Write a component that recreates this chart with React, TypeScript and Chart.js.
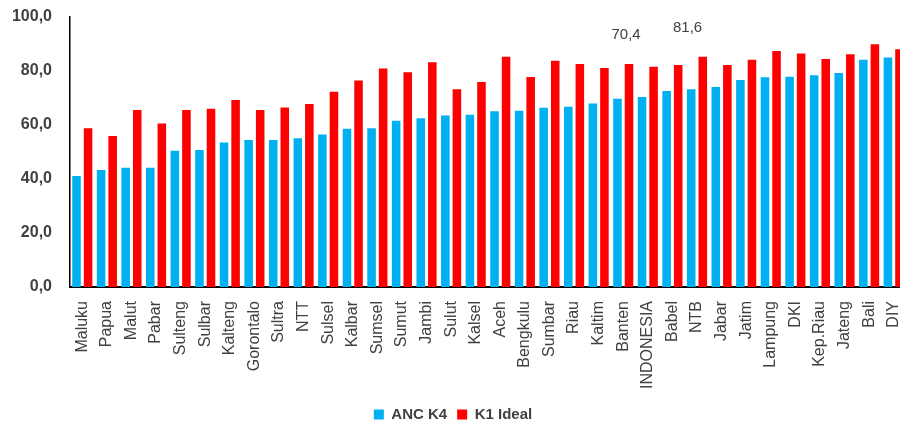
import React, { useEffect, useRef } from "react";
import { Chart, registerables } from "chart.js";

Chart.register(...registerables);

const categories = [
  "Maluku", "Papua", "Malut", "Pabar", "Sulteng", "Sulbar", "Kalteng", "Gorontalo", "Sultra", "NTT",
  "Sulsel", "Kalbar", "Sumsel", "Sumut", "Jambi", "Sulut", "Kalsel", "Aceh", "Bengkulu", "Sumbar",
  "Riau", "Kaltim", "Banten", "INDONESIA", "Babel", "NTB", "Jabar", "Jatim", "Lampung", "DKI",
  "Kep.Riau", "Jateng", "Bali", "DIY",
];

const ancK4 = [
  41.1, 43.3, 44.2, 44.2, 50.5, 50.7, 53.5, 54.4, 54.4, 55.1,
  56.5, 58.6, 58.8, 61.6, 62.5, 63.5, 63.8, 65.1, 65.3, 66.4,
  66.8, 68.0, 69.7, 70.4, 72.6, 73.2, 74.1, 76.7, 77.7, 77.9,
  78.4, 79.3, 84.2, 85.0,
];

const k1Ideal = [
  58.8, 55.9, 65.6, 60.6, 65.6, 66.0, 69.3, 65.6, 66.5, 67.8,
  72.3, 76.5, 80.9, 79.5, 83.2, 73.2, 75.9, 85.3, 77.8, 83.8,
  82.6, 81.1, 82.6, 81.6, 82.2, 85.3, 82.2, 84.2, 87.4, 86.5,
  84.4, 86.2, 89.9, 88.1,
];

const yTicks = [0, 20, 40, 60, 80, 100];

const seriesNames = ["ANC K4", "K1 Ideal"];
const labelledCategory = "INDONESIA";

const fmt = (v: number) => v.toFixed(1).replace(".", ",");

const TEXT = "#404040";
const FONT = "'Liberation Sans', Arial, sans-serif";

const valueLabelPlugin = {
  id: "valueLabels",
  afterDatasetsDraw(chart: any) {
    const idx = categories.indexOf(labelledCategory);
    if (idx < 0) return;
    const ctx = chart.ctx;
    const y = chart.scales.y;
    const specs = [
      { ds: 0, dx: -16, at: 93.3 },
      { ds: 1, dx: 34, at: 95.9 },
    ];
    ctx.save();
    ctx.font = `15px ${FONT}`;
    ctx.fillStyle = TEXT;
    ctx.textAlign = "center";
    ctx.textBaseline = "middle";
    specs.forEach((s) => {
      const el = chart.getDatasetMeta(s.ds).data[idx];
      const v = chart.data.datasets[s.ds].data[idx] as number;
      ctx.fillText(fmt(v), el.x + s.dx, y.getPixelForValue(s.at));
    });
    ctx.restore();
  },
};

export default function App() {
  const ref = useRef<HTMLCanvasElement | null>(null);

  useEffect(() => {
    document.documentElement.style.overflow = "hidden";
    document.body.style.margin = "0";
    document.body.style.overflow = "hidden";
    if (!ref.current) return;
    const chart = new Chart(ref.current, {
      type: "bar",
      data: {
        labels: categories,
        datasets: [
          {
            label: seriesNames[0],
            data: ancK4,
            backgroundColor: "#00B0F0",
            categoryPercentage: 0.94,
            barPercentage: 0.74,
          },
          {
            label: seriesNames[1],
            data: k1Ideal,
            backgroundColor: "#FF0000",
            categoryPercentage: 0.94,
            barPercentage: 0.74,
          },
        ],
      },
      options: {
        animation: false,
        responsive: false,
        maintainAspectRatio: false,
        layout: { padding: { top: 17, left: 0, right: 0, bottom: -5 } },
        plugins: {
          tooltip: { enabled: false },
          legend: {
            position: "bottom",
            labels: {
              boxWidth: 10,
              boxHeight: 10,
              padding: 10,
              color: TEXT,
              font: { family: FONT, size: 15, weight: "bold" },
            },
          },
        },
        scales: {
          x: {
            grid: { display: false, drawTicks: false },
            border: { display: true, color: "#000", width: 2 },
            afterFit: (s: any) => {
              s.height = 110;
              s.paddingLeft = 0;
              s.paddingRight = 0;
            },
            ticks: {
              autoSkip: false,
              minRotation: 90,
              maxRotation: 90,
              padding: 14,
              color: TEXT,
              font: { family: FONT, size: 16 },
            },
          },
          y: {
            min: 0,
            max: 100,
            afterBuildTicks: (s: any) => {
              s.ticks = yTicks.map((v) => ({ value: v }));
            },
            afterFit: (s: any) => {
              s.width = 70;
              s.paddingTop = 0;
              s.paddingBottom = 0;
            },
            grid: { display: false, drawTicks: false },
            border: { display: true, color: "#000", width: 1.5 },
            ticks: {
              padding: 18,
              color: TEXT,
              font: { family: FONT, size: 16, weight: "bold" },
              callback: (v: any) => fmt(Number(v)),
            },
          },
        },
      },
      plugins: [valueLabelPlugin],
    });
    return () => chart.destroy();
  }, []);

  return <canvas ref={ref} width={906} height={427} style={{ display: "block", width: 906, height: 427 }} />;
}
